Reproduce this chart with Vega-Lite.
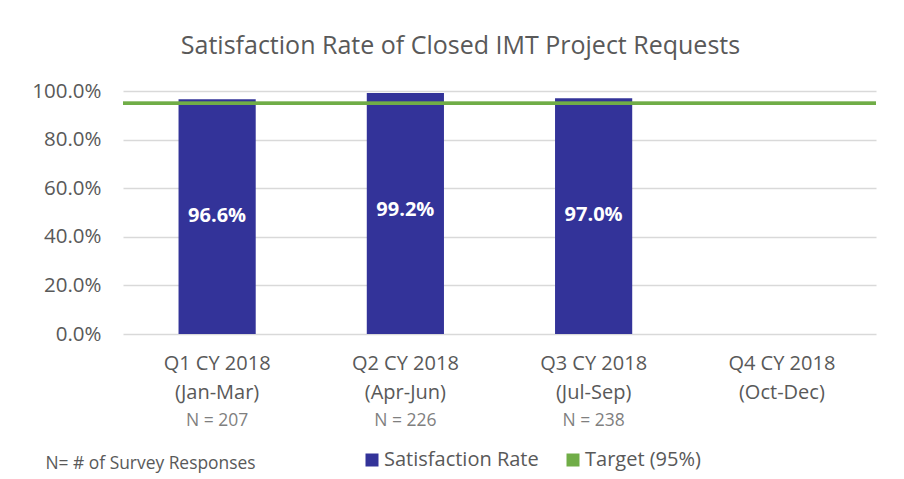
{
  "$schema": "https://vega.github.io/schema/vega-lite/v6.json",
  "autosize": "none",
  "width": 753,
  "height": 243,
  "padding": {"left": 123, "top": 91, "right": 28, "bottom": 145},
  "background": "white",
  "config": {
    "font": "Open Sans",
    "view": {"stroke": null},
    "axis": {"labelColor": "#595959", "titleColor": "#595959"}
  },
  "title": {
    "text": "Satisfaction Rate of Closed IMT Project Requests",
    "anchor": "middle",
    "dx": -39,
    "offset": 22,
    "fontSize": 25,
    "fontWeight": "normal",
    "color": "#595959",
    "font": "Open Sans"
  },
  "data": {
    "values": [
      {"quarter": "Q1 CY 2018|(Jan-Mar)", "rate": 0.966, "n": "N = 207", "label": "96.6%"},
      {"quarter": "Q2 CY 2018|(Apr-Jun)", "rate": 0.992, "n": "N = 226", "label": "99.2%"},
      {"quarter": "Q3 CY 2018|(Jul-Sep)", "rate": 0.970, "n": "N = 238", "label": "97.0%"},
      {"quarter": "Q4 CY 2018|(Oct-Dec)", "rate": null, "n": "", "label": ""}
    ]
  },
  "encoding": {
    "x": {
      "field": "quarter",
      "type": "nominal",
      "sort": null,
      "scale": {"paddingInner": 0.59, "paddingOuter": 0.295},
      "axis": {
        "labelExpr": "split(datum.label, '|')",
        "labelAngle": 0,
        "labelFontSize": 20,
        "labelLineHeight": 29,
        "labelPadding": 19,
        "labelColor": "#595959",
        "ticks": false,
        "domain": false,
        "title": "N= # of Survey Responses",
        "titleX": -78,
        "titleY": 129,
        "titleAlign": "left",
        "titleAnchor": "start",
        "titleBaseline": "middle",
        "titleFontSize": 17.4,
        "titleFontWeight": "normal",
        "titleColor": "#595959"
      }
    }
  },
  "layer": [
    {
      "mark": {"type": "bar", "color": "#333399"},
      "encoding": {
        "y": {
          "field": "rate",
          "type": "quantitative",
          "scale": {"domain": [0, 1]},
          "axis": {
            "format": ".1%",
            "values": [0, 0.2, 0.4, 0.6, 0.8, 1],
            "labelFontSize": 20.5,
            "labelPadding": 22,
            "ticks": false,
            "domain": false,
            "grid": true,
            "gridColor": "#d9d9d9",
            "gridWidth": 1.5,
            "title": null
          }
        },
        "color": {
          "datum": "Satisfaction Rate",
          "type": "nominal",
          "scale": {"domain": ["Satisfaction Rate", "Target (95%)"], "range": ["#333399", "#70AD47"]},
          "legend": {
            "title": null,
            "orient": "none",
            "direction": "horizontal",
            "legendX": 239,
            "legendY": 359,
            "symbolType": "square",
            "symbolSize": 169,
            "symbolStrokeWidth": 0,
            "labelFontSize": 20,
            "labelColor": "#595959",
            "labelOffset": 2,
            "columnPadding": 24,
            "labelFont": "Open Sans"
          }
        }
      }
    },
    {
      "mark": {"type": "rule", "strokeWidth": 3},
      "encoding": {
        "y": {"datum": 0.95, "type": "quantitative"},
        "color": {"datum": "Target (95%)", "type": "nominal"},
        "x": null
      }
    },
    {
      "mark": {"type": "text", "color": "white", "fontWeight": "bold", "fontSize": 20, "baseline": "middle", "dy": 117},
      "encoding": {
        "y": {"field": "rate", "type": "quantitative"},
        "text": {"field": "label"}
      }
    },
    {
      "mark": {"type": "text", "color": "#7f7f7f", "fontSize": 17.5, "baseline": "middle", "dy": 87},
      "encoding": {
        "y": {"datum": 0, "type": "quantitative"},
        "text": {"field": "n"}
      }
    }
  ]
}
